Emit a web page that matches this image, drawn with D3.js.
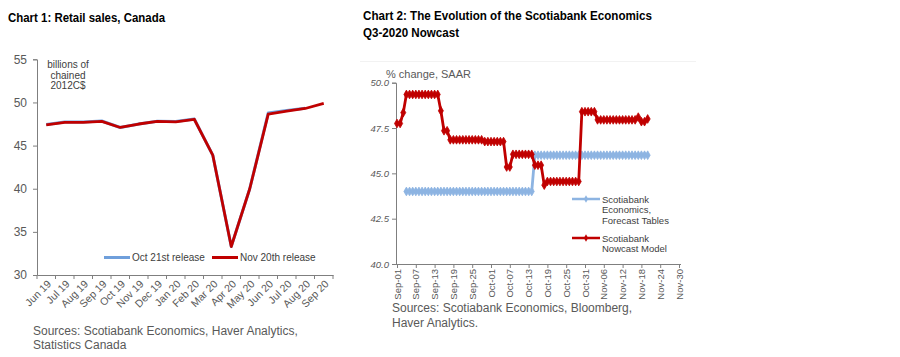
<!DOCTYPE html>
<html>
<head>
<meta charset="utf-8">
<script src="https://cdnjs.cloudflare.com/ajax/libs/d3/7.8.5/d3.min.js"></script>
<style>
  html, body { margin: 0; padding: 0; background: #ffffff; }
  svg { display: block; }
  text { font-family: "Liberation Sans", Arial, sans-serif; }
</style>
</head>
<body>
<svg id="chart" width="900" height="357"></svg>
<script>
// ---------- Chart 1 data ----------
const months = ["Jun 19","Jul 19","Aug 19","Sep 19","Oct 19","Nov 19","Dec 19","Jan 20","Feb 20","Mar 20","Apr 20","May 20","Jun 20","Jul 20","Aug 20","Sep 20"];
const oct21Release = [47.45, 47.72, 47.72, 47.85, 47.1, 47.5, 47.82, 47.78, 48.08, 43.9, 33.3, 40.0, 48.78, 49.08, 49.32];
const nov20Release = [47.4, 47.7, 47.7, 47.8, 47.1, 47.5, 47.8, 47.75, 48.05, 43.9, 33.3, 40.0, 48.65, 49.0, 49.3, 49.9];
const chart1YTicks = [30, 35, 40, 45, 50, 55];

// ---------- Chart 2 data (daily, 2020) ----------
const nowcastStart = "Sep-01";
const nowcastModel = [
  47.75, 47.75, 48.35,
  49.35, 49.35, 49.35, 49.35, 49.35, 49.35, 49.35, 49.35, 49.35, 49.35, 49.35,
  48.45, 47.35, 47.35,
  46.85, 46.85, 46.85, 46.85, 46.85, 46.85, 46.85, 46.85, 46.85, 46.85, 46.85,
  46.75, 46.75, 46.75, 46.75, 46.75, 46.75, 46.75,
  45.35, 45.35,
  46.05, 46.05, 46.05, 46.05, 46.05, 46.05, 46.05,
  45.45, 45.45, 45.45,
  44.35,
  44.55, 44.55, 44.55, 44.55, 44.55, 44.55, 44.55, 44.55, 44.55, 44.55, 44.55,
  48.4, 48.4, 48.4, 48.4, 48.4,
  47.95, 47.95, 47.95, 47.95, 47.95, 47.95, 47.95, 47.95, 47.95, 47.95, 47.95, 47.95, 47.95,
  48.1, 47.85, 47.85, 48.0
];
const forecastStart = "Sep-04";
const forecastTables = [
  44.0, 44.0, 44.0, 44.0, 44.0, 44.0, 44.0, 44.0, 44.0, 44.0,
  44.0, 44.0, 44.0, 44.0, 44.0, 44.0, 44.0, 44.0, 44.0, 44.0,
  44.0, 44.0, 44.0, 44.0, 44.0, 44.0, 44.0, 44.0, 44.0, 44.0,
  44.0, 44.0, 44.0, 44.0, 44.0, 44.0, 44.0, 44.0, 44.0, 44.0, 44.0,
  46.0, 46.0, 46.0, 46.0, 46.0, 46.0, 46.0, 46.0, 46.0, 46.0,
  46.0, 46.0, 46.0, 46.0, 46.0, 46.0, 46.0, 46.0, 46.0, 46.0,
  46.0, 46.0, 46.0, 46.0, 46.0, 46.0, 46.0, 46.0, 46.0, 46.0,
  46.0, 46.0, 46.0, 46.0, 46.0, 46.0, 46.0
];
const chart2XTicks = ["Sep-01","Sep-07","Sep-13","Sep-19","Sep-25","Oct-01","Oct-07","Oct-13","Oct-19","Oct-25","Oct-31","Nov-06","Nov-12","Nov-18","Nov-24","Nov-30"];
const chart2YTicks = [40.0, 42.5, 45.0, 47.5, 50.0];

// ---------- Common ----------
const svg = d3.select("#chart");
svg.append("rect").attr("width", 900).attr("height", 357).attr("fill", "#ffffff");
const axisGrey = "#7f7f7f";
const textGrey = "#595959";
const RED = "#c00000";
const LIGHTBLUE = "#8db4e2";

// ===================== CHART 1 =====================
const c1 = svg.append("g");
c1.append("text").attr("x", 8).attr("y", 21.5)
  .attr("font-size", 12).attr("font-weight", "bold").attr("fill", "#000")
  .attr("textLength", 157).attr("lengthAdjust", "spacingAndGlyphs")
  .text("Chart 1: Retail sales, Canada");

const x1 = d3.scaleBand().domain(months).range([37, 333]);
const y1 = d3.scaleLinear().domain([30, 55]).range([275, 59.3]);

const yAx1 = c1.append("g").attr("transform", "translate(37,0)")
  .call(d3.axisLeft(y1).tickValues(chart1YTicks).tickSize(4).tickPadding(6).tickFormat(d3.format("d")));
yAx1.select(".domain").attr("stroke", axisGrey);
yAx1.selectAll(".tick line").attr("stroke", axisGrey);
yAx1.selectAll(".tick text").attr("fill", textGrey).attr("font-size", 12)
  .attr("font-family", "Liberation Sans, Arial, sans-serif");

const xAx1 = c1.append("g").attr("transform", "translate(0,275)")
  .call(d3.axisBottom(x1).tickSize(0).tickFormat(""));
xAx1.select(".domain").attr("stroke", axisGrey);
const bounds1 = months.map(m => x1(m)).concat([x1.range()[1]]);
c1.append("g").selectAll("line").data(bounds1).join("line")
  .attr("x1", d => d).attr("x2", d => d).attr("y1", 275).attr("y2", 279)
  .attr("stroke", axisGrey);
c1.append("g").selectAll("text").data(months).join("text")
  .attr("transform", d => `translate(${x1(d) + x1.bandwidth() / 2 + 3},${282}) rotate(-45)`)
  .attr("text-anchor", "end").attr("dy", "0.35em")
  .attr("font-size", 10.5).attr("fill", textGrey).text(d => d);

c1.append("text").attr("text-anchor", "middle").attr("font-size", 10).attr("fill", "#404040")
  .selectAll("tspan").data(["billions of", "chained", "2012C$"]).join("tspan")
  .attr("x", 68).attr("y", (d, i) => 68 + i * 10.5).text(d => d);

const line1 = d3.line()
  .x((d, i) => x1(months[i]) + x1.bandwidth() / 2)
  .y(d => y1(d));
c1.append("path").datum(oct21Release).attr("d", line1)
  .attr("fill", "none").attr("stroke", "#6f9fdb").attr("stroke-width", 3).attr("stroke-linejoin", "round");
c1.append("path").datum(nov20Release).attr("d", line1)
  .attr("fill", "none").attr("stroke", RED).attr("stroke-width", 2.8).attr("stroke-linejoin", "round");

const leg1 = [
  { label: "Oct 21st release", color: "#6f9fdb", x: 104 },
  { label: "Nov 20th release", color: RED, x: 212 }
];
leg1.forEach(l => {
  c1.append("line").attr("x1", l.x).attr("x2", l.x + 26).attr("y1", 257.5).attr("y2", 257.5)
    .attr("stroke", l.color).attr("stroke-width", 3);
  c1.append("text").attr("x", l.x + 28).attr("y", 261).attr("font-size", 10)
    .attr("fill", "#404040").text(l.label);
});

c1.append("text").attr("font-size", 12).attr("fill", textGrey)
  .selectAll("tspan").data(["Sources: Scotiabank Economics, Haver Analytics,", "Statistics Canada"]).join("tspan")
  .attr("x", 33).attr("y", (d, i) => 335 + i * 14).text(d => d);

// ===================== CHART 2 =====================
const c2 = svg.append("g");
c2.append("line").attr("x1", 360).attr("x2", 696).attr("y1", 61.5).attr("y2", 61.5)
  .attr("stroke", "#f2f2f2");
c2.append("text").attr("x", 363).attr("y", 19.5)
  .attr("font-size", 12).attr("font-weight", "bold").attr("fill", "#000")
  .attr("textLength", 289).attr("lengthAdjust", "spacingAndGlyphs")
  .text("Chart 2: The Evolution of the Scotiabank Economics");
c2.append("text").attr("x", 363).attr("y", 36.5)
  .attr("font-size", 12).attr("font-weight", "bold").attr("fill", "#000")
  .attr("textLength", 96).attr("lengthAdjust", "spacingAndGlyphs")
  .text("Q3-2020 Nowcast");

const parseDay = s => d3.utcParse("%b-%d-%Y")(s + "-2020");
const x2 = d3.scaleUtc().domain([parseDay("Sep-01"), parseDay("Nov-30")]).range([397, 679]);
const y2 = d3.scaleLinear().domain([40, 50]).range([264, 82.7]);

const yAx2 = c2.append("g").attr("transform", "translate(396,0)")
  .call(d3.axisLeft(y2).tickValues(chart2YTicks).tickSize(4).tickPadding(3).tickFormat(d3.format(".1f")));
yAx2.select(".domain").attr("stroke", axisGrey);
yAx2.selectAll(".tick line").attr("stroke", axisGrey);
yAx2.selectAll(".tick text").attr("fill", textGrey).attr("font-size", 9.5).attr("font-style", "italic")
  .attr("font-family", "Liberation Sans, Arial, sans-serif");

const tickDates = chart2XTicks.map(parseDay);
const xAx2 = c2.append("g").attr("transform", "translate(0,264)")
  .call(d3.axisBottom(x2).tickValues(tickDates).tickSize(4).tickFormat(""));
xAx2.select(".domain").attr("stroke", axisGrey).attr("d", "M396,0.5H681");
xAx2.selectAll(".tick line").attr("stroke", axisGrey);
c2.append("g").selectAll("text").data(chart2XTicks).join("text")
  .attr("transform", d => `translate(${x2(parseDay(d)) + 3.5},${269}) rotate(-90)`)
  .attr("text-anchor", "end").attr("font-size", 9.5).attr("fill", textGrey).text(d => d);

c2.append("text").attr("x", 386).attr("y", 77.5).attr("font-size", 11).attr("fill", textGrey)
  .text("% change, SAAR");

function dayPoints(start, values) {
  const s = parseDay(start);
  return values.map((v, i) => ({ date: d3.utcDay.offset(s, i), value: v }));
}
const line2 = d3.line().x(d => x2(d.date)).y(d => y2(d.value));
const diamond = d3.symbol(d3.symbolDiamond, 22);

const series2 = [
  { data: dayPoints(forecastStart, forecastTables), color: LIGHTBLUE },
  { data: dayPoints(nowcastStart, nowcastModel), color: RED }
];
series2.forEach(s => {
  const g = c2.append("g");
  g.append("path").datum(s.data).attr("d", line2).attr("fill", "none")
    .attr("stroke", s.color).attr("stroke-width", 2.8).attr("stroke-linejoin", "round");
  g.selectAll("path.m").data(s.data).join("path").attr("class", "m")
    .attr("transform", d => `translate(${x2(d.date)},${y2(d.value)})`)
    .attr("d", diamond).attr("fill", s.color).attr("stroke", s.color).attr("stroke-width", 0.8);
});

const leg2 = [
  { lines: ["Scotiabank", "Economics,", "Forecast Tables"], color: LIGHTBLUE, y: 199 },
  { lines: ["Scotiabank", "Nowcast Model"], color: RED, y: 238 }
];
leg2.forEach(l => {
  c2.append("line").attr("x1", 572).attr("x2", 600).attr("y1", l.y).attr("y2", l.y)
    .attr("stroke", l.color).attr("stroke-width", 2.5);
  c2.append("path").attr("transform", `translate(586,${l.y})`).attr("d", d3.symbol(d3.symbolDiamond, 16)())
    .attr("fill", l.color);
  c2.append("text").attr("font-size", 9.5).attr("fill", "#404040")
    .selectAll("tspan").data(l.lines).join("tspan")
    .attr("x", 602).attr("y", (d, i) => l.y + 3.5 + i * 10.5).text(d => d);
});

c2.append("text").attr("font-size", 12).attr("fill", textGrey)
  .selectAll("tspan").data(["Sources: Scotiabank Economics, Bloomberg,", "Haver Analytics."]).join("tspan")
  .attr("x", 392).attr("y", (d, i) => 312 + i * 14.5).text(d => d);
</script>
</body>
</html>
